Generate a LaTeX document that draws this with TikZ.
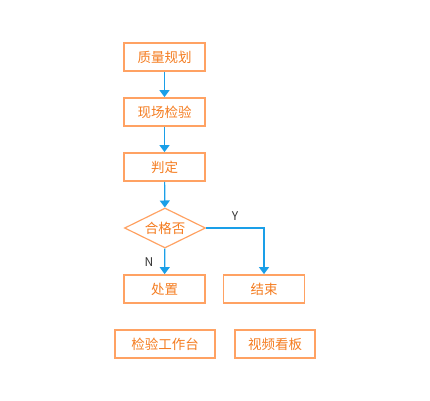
\documentclass[tikz,border=0pt]{standalone}
\usepackage{fontspec}
\setmainfont{Noto Sans CJK SC}
\usetikzlibrary{shapes.geometric,arrows.meta}
\definecolor{obord}{HTML}{FFA263}
\definecolor{otext}{HTML}{F47C20}
\definecolor{bline}{HTML}{1A9FE8}
\tikzset{
  box/.style={draw=obord,line width=1.8pt,text=otext,font=\fontsize{13.5}{14}\selectfont,minimum height=28pt,inner sep=0pt},
  dec/.style={draw=obord,line width=1.2pt,diamond,aspect=2,text=otext,font=\fontsize{13.5}{14}\selectfont,minimum width=81pt,minimum height=40pt,inner sep=0pt},
  conn/.style={draw=bline,line width=1.2pt,-{Triangle[width=10pt,length=7pt]}},
  lab/.style={font=\fontsize{12}{13}\selectfont,text=black!80}
}
\begin{document}
\begin{tikzpicture}[x=1pt,y=-1pt]
\useasboundingbox (0,0) rectangle (430,400);
\node[box,minimum width=81pt] (a) at (164.5,57) {质量规划};
\node[box,minimum width=81pt] (b) at (164.5,112) {现场检验};
\node[box,minimum width=81pt] (c) at (164.5,167) {判定};
\node[dec] (d) at (165,228) {合格否};
\node[box,minimum width=81pt] (e) at (164.5,289) {处置};
\node[box,minimum width=81pt] (f) at (264,289) {结束};
\node[box,minimum width=100pt] (g) at (165,344) {检验工作台};
\node[box,minimum width=80pt] (h) at (275,344) {视频看板};
\draw[conn] (a) -- (b);
\draw[conn] (b) -- (c);
\draw[conn] (c) -- (d);
\draw[conn] (d) -- (e);
\draw[conn] (d.east) -| (f.north);
\node[lab] (ly) at (235,216) {Y};
\node[lab] (ln) at (149,262) {N};
\end{tikzpicture}
\end{document}
